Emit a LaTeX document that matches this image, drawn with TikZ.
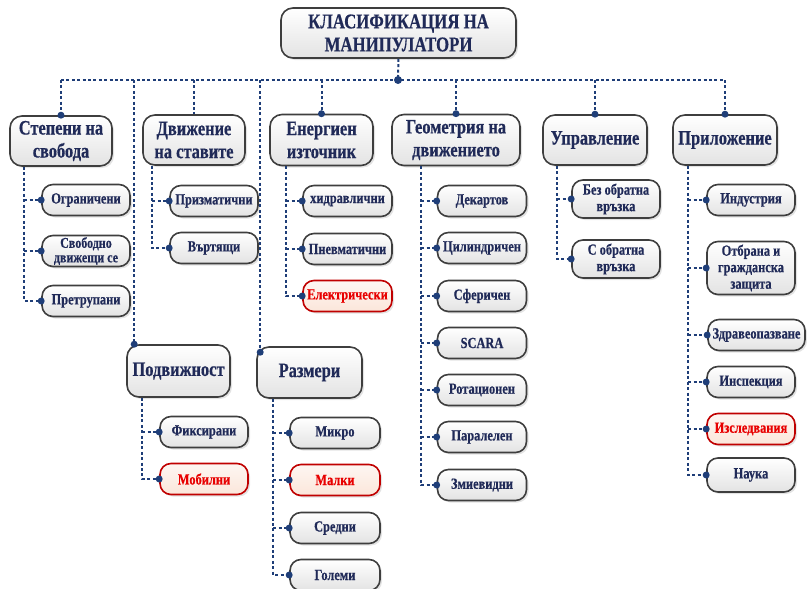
\documentclass[tikz,border=0pt]{standalone}
\usepackage{fontspec}
\setmainfont{Liberation Serif}[FakeStretch=0.8, FakeBold=0.5]
\usetikzlibrary{shadows}
\definecolor{inkblue}{RGB}{32,42,88}
\definecolor{linkblue}{RGB}{31,62,120}
\definecolor{boxgray}{RGB}{62,62,62}
\definecolor{alertred}{RGB}{192,0,0}
\definecolor{alerttext}{RGB}{232,0,0}
\definecolor{alertfill}{RGB}{251,230,218}
\begin{document}
\begin{tikzpicture}[x=1pt, y=-1pt,
	link/.style={linkblue, line width=2pt, dash pattern=on 3pt off 2.4pt},
	box/.style={rounded corners=12pt, draw=boxgray, line width=1.6pt, top color=white, bottom color=gray!22,
		text=inkblue, align=center, inner sep=1pt,
		drop shadow={shadow xshift=2pt, shadow yshift=-2pt, opacity=0.22}},
	redbox/.style={draw=alertred, top color=alertfill!35, bottom color=alertfill, text=alerttext}]
	\useasboundingbox (0,0) rectangle (807,589);
	\begin{scope} [every node/.style={box, minimum width=102pt, minimum height=50pt, font=\fontsize{20.5}{23}\selectfont\bfseries}]
		\node[minimum width=235pt, font=\fontsize{21}{23}\selectfont\bfseries] (title) at (398.5,33) {КЛАСИФИКАЦИЯ НА\\МАНИПУЛАТОРИ};
		\node (dof) at (61,141) {Степени на\\свобода};
		\node (jnt) at (194,140) {Движение\\на ставите};
		\node[minimum width=103pt, minimum height=51pt] (pwr) at (321.5,140) {Енергиен\\източник};
		\node[minimum width=128pt, minimum height=51pt] (geo) at (456,140) {Геометрия на\\движението};
		\node[minimum width=104pt] (ctl) at (595,140) {Управление};
		\node[minimum width=104pt] (app) at (725,140) {Приложение};
		\node[minimum width=103pt, minimum height=52pt] (mob) at (178.5,371) {Подвижност};
		\node[minimum width=105pt, minimum height=51pt] (siz) at (309.5,372.5) {Размери};
	\end{scope}
	\begin{scope} [every node/.style={box, rounded corners=11pt, minimum width=88pt, minimum height=31pt, font=\fontsize{15.5}{16.5}\selectfont\bfseries}]
		\node (dof1) at (86,200) {Ограничени};
		\node[font=\fontsize{15}{14.5}\selectfont\bfseries] (dof2) at (86,251) {Свободно\\движещи се};
		\node (dof3) at (86,301) {Претрупани};
		\node (jnt1) at (214,201) {Призматични};
		\node (jnt2) at (214,248) {Въртящи};
		\node[minimum width=89pt] (pwr1) at (347.5,201) {хидравлични};
		\node[minimum width=89pt] (pwr2) at (347.5,249) {Пневматични};
		\node[minimum width=89pt, redbox] (pwr3) at (347.5,296) {Електрически};
		\node[minimum width=89pt] (geo1) at (482,201) {Декартов};
		\node[minimum width=89pt] (geo2) at (482,248) {Цилиндричен};
		\node[minimum width=89pt] (geo3) at (482,296) {Сферичен};
		\node[minimum width=89pt] (geo4) at (482,343) {SCARA};
		\node[minimum width=89pt] (geo5) at (482,390) {Ротационен};
		\node[minimum width=89pt] (geo6) at (482,437) {Паралелен};
		\node[minimum width=89pt] (geo7) at (482,485) {Змиевидни};
		\node[minimum height=38pt] (ctl1) at (616,199) {Без обратна\\връзка};
		\node[minimum height=38pt] (ctl2) at (616,259) {С обратна\\връзка};
		\node (app1) at (751,200) {Индустрия};
		\node[minimum height=53pt] (app2) at (751,268) {Отбрана и\\гражданска\\защита};
		\node[minimum width=97pt] (app3) at (756.5,335) {Здравеопазване};
		\node (app4) at (751,382) {Инспекция};
		\node[redbox] (app5) at (751,429) {Изследвания};
		\node[minimum height=34pt] (app6) at (751,475) {Наука};
		\node (mob1) at (204,432) {Фиксирани};
		\node[redbox] (mob2) at (204,479) {Мобилни};
		\node[minimum width=90pt] (siz1) at (335,433) {Микро};
		\node[minimum width=90pt, redbox] (siz2) at (335,480) {Малки};
		\node[minimum width=90pt] (siz3) at (335,528) {Средни};
		\node[minimum width=90pt] (siz4) at (335,575) {Големи};
	\end{scope}
	\coordinate (bus) at (398,80);
	\coordinate (mobin) at ([xshift=8pt]mob.north west);
	\coordinate (sizin) at ([xshift=4pt,yshift=-6pt]siz.north west);
	\draw[link] (title.south) -- (bus);
	\draw[link] (bus -| dof.north) -- (bus -| app.north);
	\draw[link] (bus -| dof.north) -- (dof.north);
	\draw[link] (bus -| mobin) -- (mobin);
	\draw[link] (bus -| jnt.north) -- (jnt.north);
	\draw[link] (bus -| sizin) -- (sizin);
	\draw[link] (bus -| pwr.north) -- (pwr.north);
	\draw[link] (bus -| geo.north) -- (geo.north);
	\draw[link] (bus -| ctl.north) -- (ctl.north);
	\draw[link] (bus -| app.north) -- (app.north);
	\coordinate (dofs) at ([xshift=15pt]dof.south west);
	\coordinate (jnts) at ([xshift=10pt]jnt.south west);
	\coordinate (pwrs) at ([xshift=17pt]pwr.south west);
	\coordinate (geos) at ([xshift=30pt]geo.south west);
	\coordinate (ctls) at ([xshift=15pt]ctl.south west);
	\coordinate (apps) at ([xshift=16pt]app.south west);
	\coordinate (mobs) at ([xshift=16pt]mob.south west);
	\coordinate (sizs) at ([xshift=17pt]siz.south west);
	\draw[link] (dofs) |- (dof3.west);
	\draw[link] (dofs |- dof1.west) -- (dof1.west);
	\draw[link] (dofs |- dof2.west) -- (dof2.west);
	\draw[link] (jnts) |- (jnt2.west);
	\draw[link] (jnts |- jnt1.west) -- (jnt1.west);
	\draw[link] (pwrs) |- (pwr3.west);
	\draw[link] (pwrs |- pwr1.west) -- (pwr1.west);
	\draw[link] (pwrs |- pwr2.west) -- (pwr2.west);
	\draw[link] (geos) |- (geo7.west);
	\draw[link] (geos |- geo1.west) -- (geo1.west);
	\draw[link] (geos |- geo2.west) -- (geo2.west);
	\draw[link] (geos |- geo3.west) -- (geo3.west);
	\draw[link] (geos |- geo4.west) -- (geo4.west);
	\draw[link] (geos |- geo5.west) -- (geo5.west);
	\draw[link] (geos |- geo6.west) -- (geo6.west);
	\draw[link] (ctls) |- (ctl2.west);
	\draw[link] (ctls |- ctl1.west) -- (ctl1.west);
	\draw[link] (apps) |- (app6.west);
	\draw[link] (apps |- app1.west) -- (app1.west);
	\draw[link] (apps |- app2.west) -- (app2.west);
	\draw[link] (apps |- app3.west) -- (app3.west);
	\draw[link] (apps |- app4.west) -- (app4.west);
	\draw[link] (apps |- app5.west) -- (app5.west);
	\draw[link] (mobs) |- (mob2.west);
	\draw[link] (mobs |- mob1.west) -- (mob1.west);
	\draw[link] (sizs) |- (siz4.west);
	\draw[link] (sizs |- siz1.west) -- (siz1.west);
	\draw[link] (sizs |- siz2.west) -- (siz2.west);
	\draw[link] (sizs |- siz3.west) -- (siz3.west);
	\fill[linkblue] (bus) circle (4pt) (dof.north) circle (3.5pt) (mobin) circle (3.5pt) (sizin) circle (3.5pt)
		(pwr.north) circle (3.5pt) (geo.north) circle (3.5pt) (ctl.north) circle (3.5pt) (app.north) circle (3.5pt);
	\fill[linkblue] (dof1.west) circle (3.5pt) (dof2.west) circle (3.5pt) (dof3.west) circle (3.5pt)
		(jnt1.west) circle (3.5pt) (jnt2.west) circle (3.5pt)
		(pwr1.west) circle (3.5pt) (pwr2.west) circle (3.5pt) (pwr3.west) circle (3.5pt)
		(geo1.west) circle (3.5pt) (geo2.west) circle (3.5pt) (geo3.west) circle (3.5pt) (geo4.west) circle (3.5pt)
		(geo5.west) circle (3.5pt) (geo6.west) circle (3.5pt) (geo7.west) circle (3.5pt)
		(ctl1.west) circle (3.5pt) (ctl2.west) circle (3.5pt)
		(app1.west) circle (3.5pt) (app2.west) circle (3.5pt) (app3.west) circle (3.5pt)
		(app4.west) circle (3.5pt) (app5.west) circle (3.5pt) (app6.west) circle (3.5pt)
		(mob1.west) circle (3.5pt) (mob2.west) circle (3.5pt)
		(siz1.west) circle (3.5pt) (siz2.west) circle (3.5pt) (siz3.west) circle (3.5pt) (siz4.west) circle (3.5pt);
\end{tikzpicture}
\end{document}
